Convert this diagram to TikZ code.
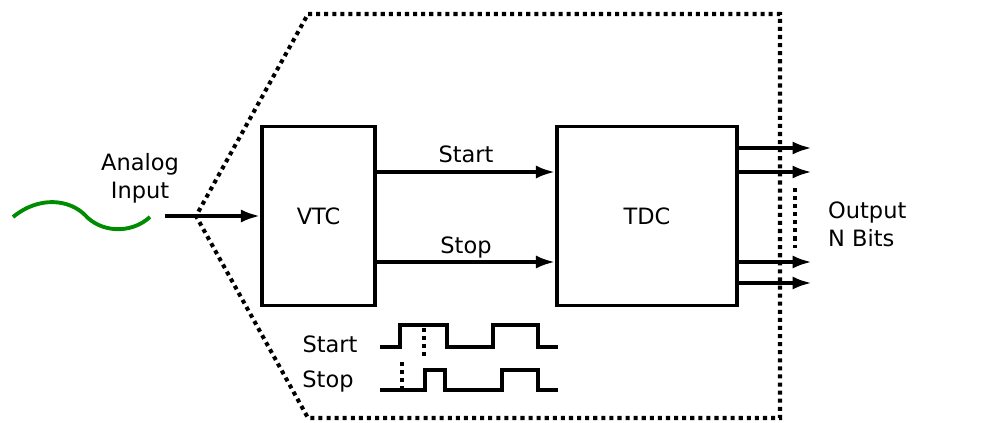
\documentclass[tikz,border=0pt]{standalone}
\usepackage{fontspec}
\setmainfont{DejaVu Sans}
\usetikzlibrary{arrows.meta}
\tikzset{
  block/.style={draw,line width=2.1pt,minimum width=2.26cm,minimum height=3.58cm},
  sig/.style={line width=2.1pt,-{Latex[length=11pt,width=7.5pt]}},
  dotline/.style={line width=2.3pt,dash pattern=on 2.3pt off 2.3pt},
  wave/.style={line width=2.1pt},
  lbl/.style={font=\fontsize{12.8}{16}\selectfont}
}
\begin{document}
\begin{tikzpicture}[x=0.02cm,y=-0.02cm]
\useasboundingbox (0,0) rectangle (1006,422);
\draw[dotline] (308,14) -- (780,14) -- (780,418) -- (308,418) -- (196,216) -- cycle;

\node[block,lbl] (vtc) at (318.5,216) {VTC};
\node[block,lbl,minimum width=3.6cm] (tdc) at (647,216) {TDC};

\draw[green!55!black,line width=2.2pt]
(13,217) .. controls (40,195) and (70,200) .. (85,215)
.. controls (100,232) and (130,235) .. (150,217);
\node[lbl,align=center] (ain) at (140,178) {Analog\\[0pt]Input};
\coordinate (inp) at (165,216);
\draw[sig] (inp) -- (vtc.west);

\draw[sig] ([yshift=0.88cm]vtc.east) -- node[lbl,above=1pt] (startl) {Start} ([yshift=0.88cm]tdc.west);
\draw[sig] ([yshift=-0.92cm]vtc.east) -- node[lbl,above=-2pt] (stopl) {Stop} ([yshift=-0.92cm]tdc.west);

\draw[sig] ([yshift=1.36cm]tdc.east) -- ++(73,0);
\draw[sig] ([yshift=0.88cm]tdc.east) -- ++(73,0);
\draw[sig] ([yshift=-0.92cm]tdc.east) -- ++(73,0);
\draw[sig] ([yshift=-1.34cm]tdc.east) -- ++(73,0);
\draw[dotline] (795,188) -- (795,248);
\node[lbl,align=left,anchor=west] (outl) at (822,224) {Output\\[0pt]N Bits};

% timing
\node[lbl] (tstart) at (330,344) {Start};
\node[lbl] (tstop) at (328,381) {Stop};
\draw[wave] (380,347) -- (400,347) -- (400,325) -- (447,325) -- (447,347)
-- (493,347) -- (493,325) -- (538,325) -- (538,347) -- (558,347);
\draw[wave] (380,390) -- (425,390) -- (425,370) -- (445,370) -- (445,390)
-- (502,390) -- (502,370) -- (538,370) -- (538,390) -- (558,390);
\draw[dotline] (402,362) -- (402,390);
\draw[dotline] (424,328) -- (424,356);
\end{tikzpicture}
\end{document}
